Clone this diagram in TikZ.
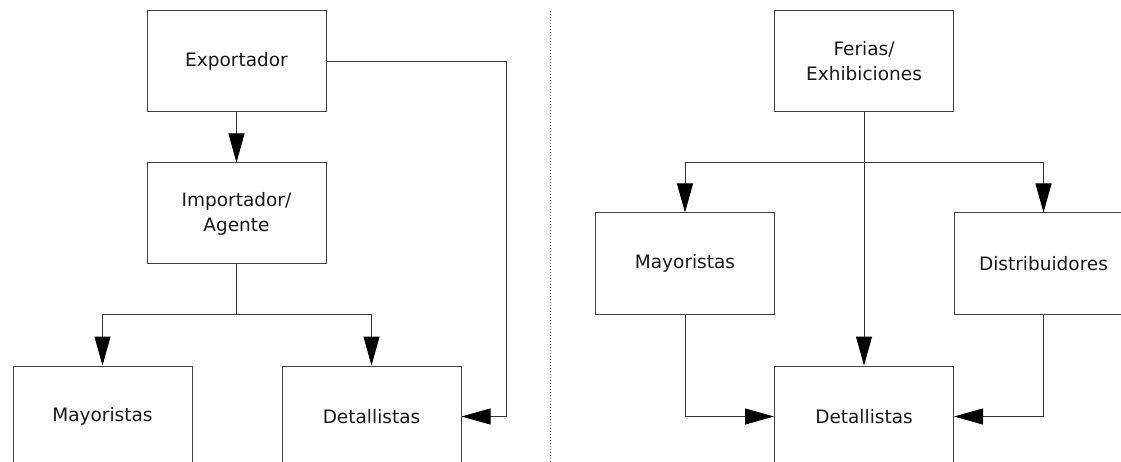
\documentclass[tikz,border=0pt]{standalone}
\usepackage{fontspec}
\setmainfont{DejaVu Sans}
\usetikzlibrary{arrows.meta}
\begin{document}
\begin{tikzpicture}[x=1pt,y=-1pt,
  box/.style={draw=black!75,line width=1pt,minimum width=179pt,minimum height=101pt,
    inner sep=0pt,align=center,font=\fontsize{18.5}{25}\selectfont,text=black!90},
  conn/.style={draw=black!80,line width=1pt},
  arr/.style={conn,-{Triangle[length=29pt,width=16pt,black]}},
  sep/.style={draw=black!60,line width=1pt,dotted}]
\useasboundingbox (0,0) rectangle (1121,462);
\clip (0,0) rectangle (1121,462);
\fill[white] (0,0) rectangle (1121,462);
% left diagram
\node[box] (exp) at (236.5,61.5) {Exportador};
\node[box] (imp) at (236.5,213.5) {Importador/\\Agente};
\node[box] (may1) at (102.5,416.5) {Mayoristas};
\node[box] (det1) at (371.5,416.5) {Detallistas};
\coordinate (j1) at (236.5,314);
\coordinate (c1) at (506,61.5);
\draw[arr] (exp.south) -- (imp.north);
\draw[conn] (imp.south) -- (j1);
\draw[arr] (j1) -| (may1.north);
\draw[arr] (j1) -| (det1.north);
\draw[arr] (exp.east) -- (c1) |- (det1.east);
% separator
\coordinate (s1) at (550,11);
\coordinate (s2) at (550,462);
\draw[sep] (s1) -- (s2);
% right diagram
\node[box] (fer) at (864,61.5) {Ferias/\\Exhibiciones};
\node[box] (may2) at (685,263.5) {Mayoristas};
\node[box] (dis) at (1043.5,263.5) {Distribuidores};
\node[box] (det2) at (864,416.5) {Detallistas};
\coordinate (j2) at (864,163);
\draw[arr] (fer.south) -- (det2.north);
\draw[arr] (j2) -| (may2.north);
\draw[arr] (j2) -| (dis.north);
\draw[arr] (may2.south) |- (det2.west);
\draw[arr] (dis.south) |- (det2.east);
\end{tikzpicture}
\end{document}
